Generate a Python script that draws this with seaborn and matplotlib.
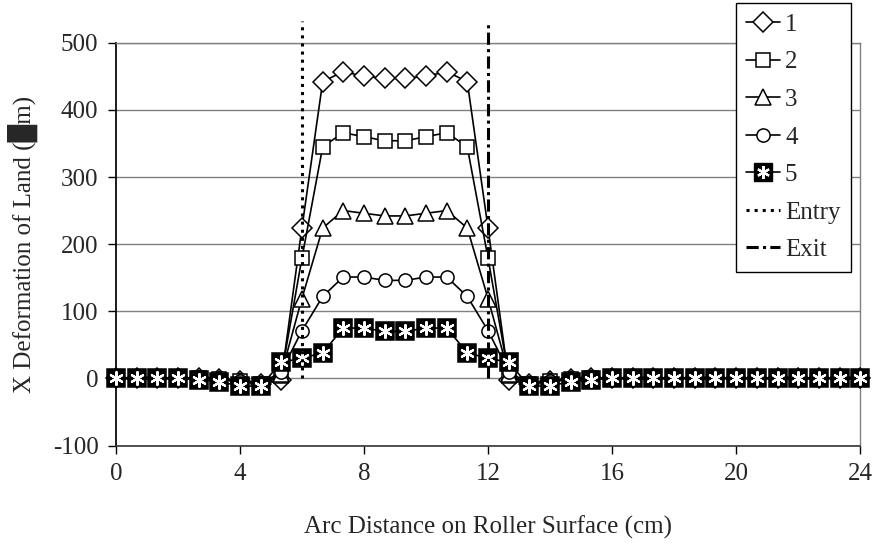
import numpy as np
import pandas as pd
import matplotlib
matplotlib.use("Agg")
import matplotlib.pyplot as plt
from matplotlib.lines import Line2D
import seaborn as sns

# arc distance on roller surface (cm)
x_cm = [0, 0.67, 1.33, 2, 2.67, 3.33, 4, 4.67, 5.33, 6, 6.67, 7.33, 8, 8.67, 9.33,
        10, 10.67, 11.33, 12, 12.67, 13.33, 14, 14.67, 15.33, 16, 16.67, 17.33, 18,
        18.67, 19.33, 20, 20.67, 21.33, 22, 22.67, 23.33, 24]

zeros_tail = [0] * 13
s1 = [0, 0, 0, 0, 1, -1, -4, -8, -3, 224, 442, 457, 450, 447, 447, 450, 457, 442, 224,
      -3, -8, -4, -1, 1] + zeros_tail
s2 = [0, 0, 0, 0, 1, -1, -4, -8, 3, 179, 345, 366, 360, 354, 354, 360, 366, 345, 179,
      3, -8, -4, -1, 1] + zeros_tail
s3 = [0, 0, 0, 0, 1, -1, -4, -8, 6, 119, 224, 250, 246, 242, 242, 246, 250, 224, 119,
      6, -8, -4, -1, 1] + zeros_tail
s4 = [0, 0, 0, 0, 1, -1, -4, -8, 10, 71, 122, 151, 151, 146, 146, 151, 151, 122, 71,
      10, -8, -4, -1, 1] + zeros_tail
s5 = [0, 0, 0, 0, -2, -5, -11, -12, 24, 30, 38, 75, 75, 70, 70, 75, 75, 38, 30,
      24, -12, -11, -5, -2] + zeros_tail

series_names = ["1", "2", "3", "4", "5"]
entry_x = [6, 6]
exit_x = [12, 12]
guide_y = [0, 532]

y_ticks = [-100, 0, 100, 200, 300, 400, 500]
x_ticks = [0, 4, 8, 12, 16, 20, 24]

sns.set_theme(style="white")
plt.rcParams["font.family"] = ["Liberation Serif", "DejaVu Sans"]
plt.rcParams["font.size"] = 18
plt.rcParams["axes.unicode_minus"] = False

FS = 18

df = pd.DataFrame({"x": x_cm, "1": s1, "2": s2, "3": s3, "4": s4, "5": s5})
long_df = df.melt(id_vars="x", var_name="series", value_name="dx")

fig = plt.figure(figsize=(8.77, 5.48), dpi=100)
ax = fig.add_axes([0.132, 0.187, 0.849, 0.735])

LW = 1.2
MEW = 1.1
DASHDOT = (0, (4, 1.4, 1, 1.4))
styles = {
    "1": dict(marker="D", markersize=10, markerfacecolor="white"),
    "2": dict(marker="s", markersize=10.5, markerfacecolor="white"),
    "3": dict(marker="^", markersize=11, markerfacecolor="white"),
    "4": dict(marker="o", markersize=9.5, markerfacecolor="white"),
    "5": dict(marker="s", markersize=12.5, markerfacecolor="black"),
}
STAR = (6, 2, 0)

for i, name in enumerate(series_names):
    sub = long_df[long_df["series"] == name]
    sns.lineplot(data=sub, x="x", y="dx", ax=ax, color="black", lw=LW,
                 estimator=None, markeredgecolor="black", markeredgewidth=MEW,
                 clip_on=False, zorder=3 + i, legend=False, **styles[name])

# white asterisks on the black squares of series 5
sub5 = long_df[long_df["series"] == "5"]
sns.scatterplot(data=sub5, x="x", y="dx", ax=ax, marker=STAR, color="white",
                s=85, linewidth=1.6, clip_on=False, zorder=9, legend=False)

# entry / exit guides
sns.lineplot(x=entry_x, y=guide_y, ax=ax, color="black", lw=2.2, linestyle=":",
             estimator=None, sort=False, clip_on=False, zorder=10)
sns.lineplot(x=exit_x, y=guide_y, ax=ax, color="black", lw=2.2, linestyle=DASHDOT,
             estimator=None, sort=False, clip_on=False, zorder=10)

ax.set_xlim(0, 24)
ax.set_ylim(-100, 500)
ax.set_xticks(x_ticks)
ax.set_yticks(y_ticks)
ax.yaxis.grid(True, color="#808080", lw=1)
ax.xaxis.grid(False)
ax.set_axisbelow(True)
ax.tick_params(axis="both", direction="out", length=5.5, width=1, color="black",
               labelsize=FS, bottom=True, left=True)
ax.tick_params(axis="x", pad=7)
ax.tick_params(axis="y", pad=7)

for side in ["top", "right"]:
    ax.spines[side].set_color("#808080")
    ax.spines[side].set_linewidth(1)
ax.spines["left"].set_color("black")
ax.spines["bottom"].set_color("#333333")
ax.spines["bottom"].set_linewidth(1.2)

ax.set_xlabel("Arc Distance on Roller Surface (cm)", fontsize=FS)
ax.set_ylabel("X Deformation of Land (\u2588m)", fontsize=FS)
ax.xaxis.set_label_coords(0.5, -0.173)
ax.yaxis.set_label_coords(-0.104, 0.5)

handles = [
    Line2D([], [], color="black", lw=LW, marker="D", markersize=10,
           markerfacecolor="white", markeredgecolor="black", markeredgewidth=MEW),
    Line2D([], [], color="black", lw=LW, marker="s", markersize=10.5,
           markerfacecolor="white", markeredgecolor="black", markeredgewidth=MEW),
    Line2D([], [], color="black", lw=LW, marker="^", markersize=11,
           markerfacecolor="white", markeredgecolor="black", markeredgewidth=MEW),
    Line2D([], [], color="black", lw=LW, marker="o", markersize=9.5,
           markerfacecolor="white", markeredgecolor="black", markeredgewidth=MEW),
    (Line2D([], [], color="black", lw=LW, marker="s", markersize=12.5,
            markerfacecolor="black", markeredgecolor="black"),
     Line2D([], [], linestyle="none", marker=STAR, markersize=9.2,
            markeredgecolor="white", markeredgewidth=1.6)),
    Line2D([], [], color="black", lw=2.2, linestyle=":"),
    Line2D([], [], color="black", lw=2.2, linestyle=DASHDOT),
]
labels = series_names + ["Entry", "Exit"]
leg = ax.legend(handles, labels, loc="upper right",
                bbox_to_anchor=(851 / 877, 1 - 3 / 548),
                bbox_transform=fig.transFigure, frameon=True, fancybox=False,
                edgecolor="black", framealpha=1, fontsize=FS, handlelength=1.35,
                handletextpad=0.2, labelspacing=0.6, borderpad=0.42,
                borderaxespad=0)
leg.get_frame().set_linewidth(1)
leg.set_zorder(20)

fig.savefig("out.png", dpi=100)
